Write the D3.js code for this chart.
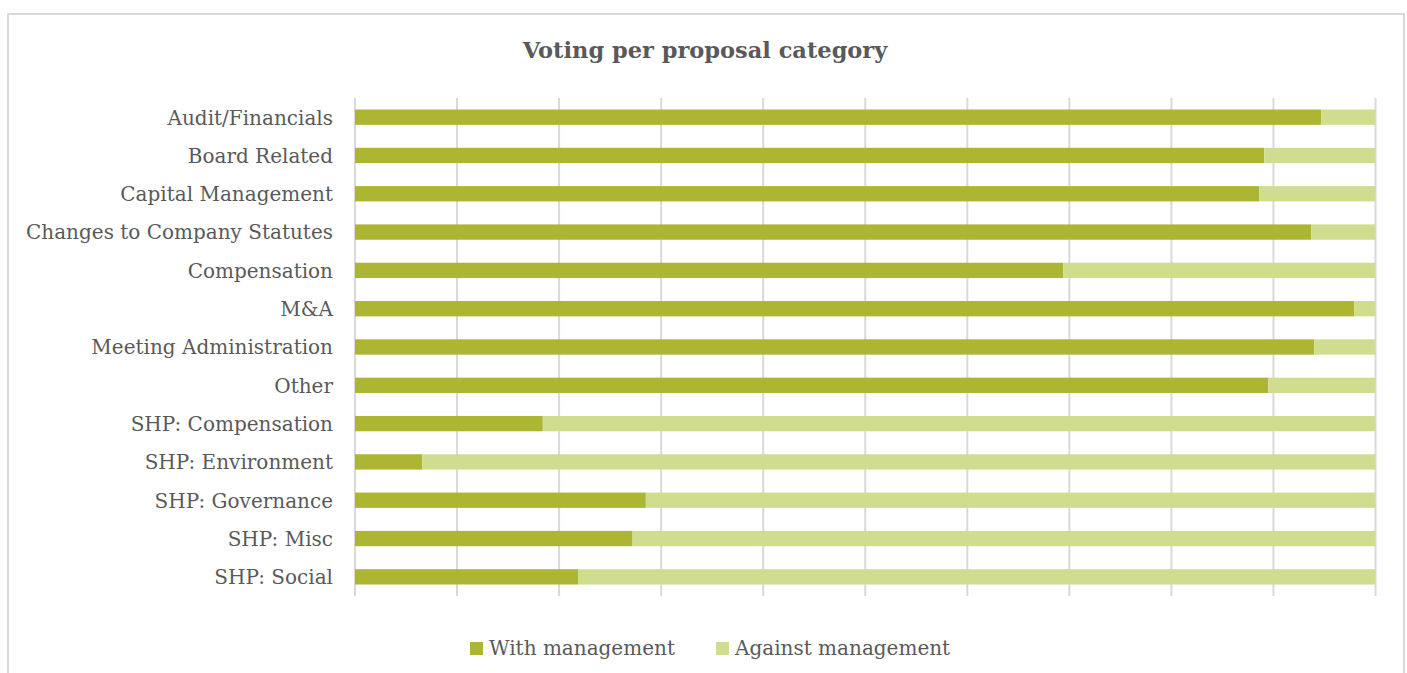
<!DOCTYPE html>
<html>
<head>
<meta charset="utf-8">
<script src="https://cdn.jsdelivr.net/npm/d3@7"></script>
<style>
  body { margin: 0; background: #fff; }
  text { font-family: "DejaVu Serif", serif; fill: #595959; }
</style>
</head>
<body>
<div id="chart"></div>
<script>
// categories, top to bottom
var categories = [
  "Audit/Financials", "Board Related", "Capital Management",
  "Changes to Company Statutes", "Compensation", "M&A",
  "Meeting Administration", "Other", "SHP: Compensation",
  "SHP: Environment", "SHP: Governance", "SHP: Misc", "SHP: Social"
];
// % of votes with management
var withMgmt = [94.7, 89.1, 88.6, 93.7, 69.4, 97.9, 94.0, 89.5, 18.4, 6.6, 28.5, 27.2, 21.9];
// % of votes against management
var againstMgmt = [5.3, 10.9, 11.4, 6.3, 30.6, 2.1, 6.0, 10.5, 81.6, 93.4, 71.5, 72.8, 78.1];
var seriesNames = ["With management", "Against management"];
var colors = ["#acb632", "#d1dd8e"];
var ticks = [0, 10, 20, 30, 40, 50, 60, 70, 80, 90, 100];

var width = 1407;
var height = 673;

var svg = d3.select("#chart")
  .append("svg")
    .attr("width", width)
    .attr("height", height);

// outer frame
svg.append("rect")
  .attr("x", 8).attr("y", 14)
  .attr("width", 1396).attr("height", 680)
  .attr("fill", "none")
  .attr("stroke", "#d9d9d9")
  .attr("stroke-width", 2);

svg.append("text")
  .attr("x", 705)
  .attr("y", 58)
  .attr("text-anchor", "middle")
  .style("font-size", "22.5px")
  .style("font-weight", "bold")
  .text("Voting per proposal category");

var x = d3.scaleLinear().domain([0, 100]).range([355, 1375.5]);
var y = d3.scaleBand().domain(categories).range([98, 596])
  .paddingInner(0.6).paddingOuter(0.3);

// gridlines
svg.append("g")
  .selectAll("line")
  .data(ticks)
  .enter()
  .append("line")
    .attr("x1", d => x(d)).attr("x2", d => x(d))
    .attr("y1", 98).attr("y2", 596)
    .attr("stroke", "#d9d9d9")
    .attr("stroke-width", 2);

var rows = categories.map((c, i) => ({cat: c, vals: [withMgmt[i], againstMgmt[i]]}));
var stack = d3.stack().keys([0, 1]).value((d, k) => d.vals[k]);
var layers = stack(rows);

svg.append("g")
  .selectAll("g")
  .data(layers)
  .enter()
  .append("g")
    .attr("fill", (d, i) => colors[i])
  .selectAll("rect")
  .data(d => d)
  .enter()
  .append("rect")
    .attr("x", d => x(d[0]))
    .attr("y", d => y(d.data.cat))
    .attr("width", d => x(d[1]) - x(d[0]))
    .attr("height", y.bandwidth());

// category labels
var yAxis = svg.append("g")
  .attr("transform", "translate(355,1)")
  .call(d3.axisLeft(y).tickSize(0).tickPadding(22));
yAxis.select(".domain").remove();
yAxis.selectAll("text")
  .style("font-size", "20px")
  .style("font-family", "DejaVu Serif, serif")
  .attr("fill", "#595959");

// legend
var legendX = [470, 716];
var legend = svg.append("g")
  .selectAll("g")
  .data(seriesNames)
  .enter()
  .append("g")
    .attr("transform", (d, i) => "translate(" + legendX[i] + ",642)");

legend.append("rect")
  .attr("width", 13).attr("height", 13)
  .attr("fill", (d, i) => colors[i]);

legend.append("text")
  .attr("x", 19)
  .attr("y", 13)
  .style("font-size", "20px")
  .text(d => d);
</script>
</body>
</html>
